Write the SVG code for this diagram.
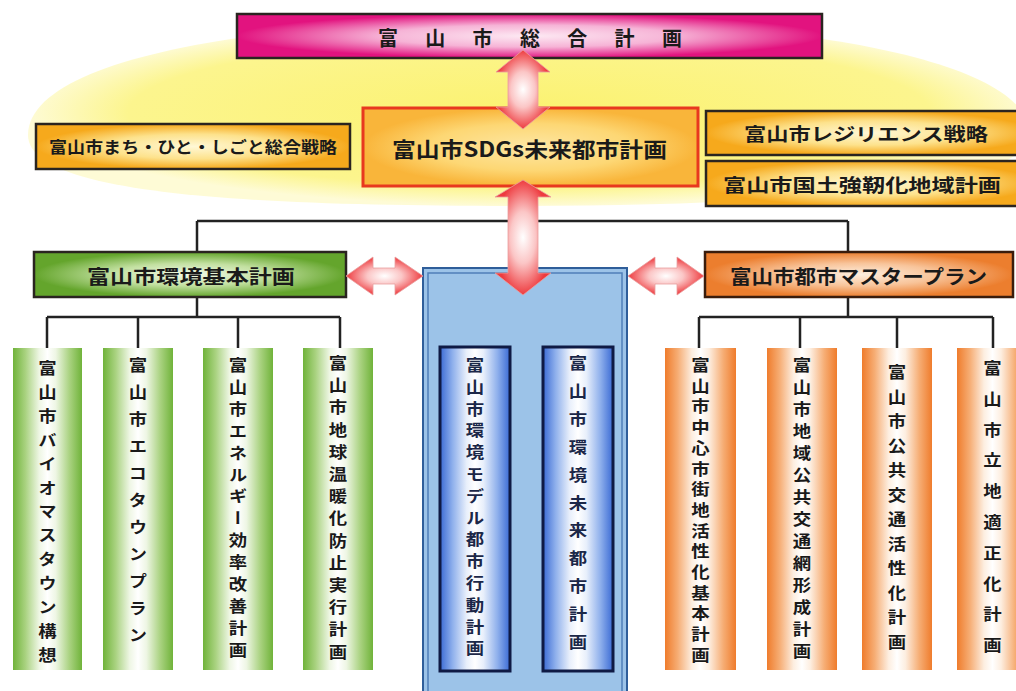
<svg xmlns="http://www.w3.org/2000/svg" width="1016" height="691" viewBox="0 0 1016 691">
<defs>
<radialGradient id="gYellow" cx="0.5" cy="0.5" r="0.5">
<stop offset="0" stop-color="#fbf270"/>
<stop offset="0.8" stop-color="#fcf58e"/>
<stop offset="1" stop-color="#fefbd6"/>
</radialGradient>
<radialGradient id="gPink" cx="0.5" cy="0.5" r="0.5">
<stop offset="0" stop-color="#fde9f3"/>
<stop offset="0.5" stop-color="#f6b3d6"/>
<stop offset="1" stop-color="#e2137f"/>
</radialGradient>
<radialGradient id="gGold" cx="0.5" cy="0.5" r="0.5">
<stop offset="0" stop-color="#fff8d6"/>
<stop offset="0.55" stop-color="#fde28c"/>
<stop offset="1" stop-color="#f6a91c"/>
</radialGradient>
<radialGradient id="gSdgs" cx="0.5" cy="0.5" r="0.5">
<stop offset="0" stop-color="#fde7a4"/>
<stop offset="0.6" stop-color="#fdd774"/>
<stop offset="1" stop-color="#f9b53a"/>
</radialGradient>
<radialGradient id="gGreenH" cx="0.5" cy="0.5" r="0.5">
<stop offset="0" stop-color="#f2f9e8"/>
<stop offset="0.5" stop-color="#c2e0a0"/>
<stop offset="1" stop-color="#64a52c"/>
</radialGradient>
<radialGradient id="gOrangeH" cx="0.5" cy="0.5" r="0.5">
<stop offset="0" stop-color="#fdeede"/>
<stop offset="0.5" stop-color="#f8c49a"/>
<stop offset="1" stop-color="#ec7e2e"/>
</radialGradient>
<linearGradient id="gGreenV" x1="0" y1="0" x2="1" y2="0">
<stop offset="0" stop-color="#70b33a"/>
<stop offset="0.18" stop-color="#a9d280"/>
<stop offset="0.38" stop-color="#eef6e4"/>
<stop offset="0.5" stop-color="#ffffff"/>
<stop offset="0.62" stop-color="#eef6e4"/>
<stop offset="0.82" stop-color="#a9d280"/>
<stop offset="1" stop-color="#70b33a"/>
</linearGradient>
<linearGradient id="gOrangeV" x1="0" y1="0" x2="1" y2="0">
<stop offset="0" stop-color="#ef7c2c"/>
<stop offset="0.18" stop-color="#f6ad74"/>
<stop offset="0.38" stop-color="#fdeee0"/>
<stop offset="0.5" stop-color="#ffffff"/>
<stop offset="0.62" stop-color="#fdeee0"/>
<stop offset="0.82" stop-color="#f6ad74"/>
<stop offset="1" stop-color="#ef7c2c"/>
</linearGradient>
<linearGradient id="gBlueV" x1="0" y1="0" x2="1" y2="0">
<stop offset="0" stop-color="#3a6ad4"/>
<stop offset="0.18" stop-color="#8fb0ec"/>
<stop offset="0.38" stop-color="#e8effb"/>
<stop offset="0.5" stop-color="#ffffff"/>
<stop offset="0.62" stop-color="#e8effb"/>
<stop offset="0.82" stop-color="#8fb0ec"/>
<stop offset="1" stop-color="#3a6ad4"/>
</linearGradient>
<radialGradient id="gArrow" cx="0.5" cy="0.5" r="0.5">
<stop offset="0" stop-color="#ffffff"/>
<stop offset="0.45" stop-color="#fbc6c6"/>
<stop offset="1" stop-color="#ee3b3f"/>
</radialGradient>
<style>
.t{font-family:"Noto Sans CJK JP","Noto Sans CJK SC",sans-serif;font-weight:700;fill:#1a1a1a;dominant-baseline:central}
.v{font-family:"Noto Sans CJK JP","Noto Sans CJK SC",sans-serif;font-weight:700;fill:#1a1a1a;font-size:16px;writing-mode:vertical-rl}
.vb{fill:#1b2748}
.line{stroke:#222;stroke-width:2.5;fill:none}
.arrow{fill:url(#gArrow);stroke:#e8a0a0;stroke-width:0.8}
.boxK{stroke:#2a2420;stroke-width:2.5}
</style>
</defs>

<path d="M 28 135 C 28 60, 250 20, 525 20 C 800 20, 1030 60, 1030 135 C 1030 185, 800 206, 525 206 C 250 206, 28 195, 28 135 Z" fill="url(#gYellow)"/>

<g id="connectors">
<path class="line" d="M197 221 H848 M197 221 V252 M848 221 V252"/>
<path class="line" d="M197 297 V317 M47 317 H340 M47 317 V348 M138 317 V348 M238 317 V348 M340 317 V348"/>
<path class="line" d="M848 297 V317 M699 317 H993 M699 317 V348 M800 317 V348 M897 317 V348 M993 317 V348"/>
</g>

<g id="node-sogo">
<rect class="boxK" x="237" y="14" width="585" height="44" fill="url(#gPink)"/>
<text class="t" font-size="20" y="37" x="378 401.6 425.3 449 472.6 496.3 520 543.6 567.3 591 614.6 638.3 662">富 山 市 総 合 計 画</text>
</g>

<g id="node-machi">
<rect class="boxK" x="36" y="124" width="314" height="45" fill="url(#gGold)"/>
<text class="t" font-size="16" x="49" y="146" textLength="288" lengthAdjust="spacingAndGlyphs">富山市まち・ひと・しごと総合戦略</text>
</g>

<g id="node-sdgs">
<rect x="363" y="108" width="335" height="78" fill="url(#gSdgs)" stroke="#e8381f" stroke-width="3"/>
<text class="t" font-size="21" x="392" y="148" textLength="275" lengthAdjust="spacingAndGlyphs">富山市SDGs未来都市計画</text>
</g>

<g id="node-resilience">
<rect class="boxK" x="706" y="111" width="330" height="44" fill="url(#gGold)"/>
<text class="t" font-size="18" x="744" y="133" textLength="244" lengthAdjust="spacingAndGlyphs">富山市レジリエンス戦略</text>
</g>

<g id="node-kokudo">
<rect class="boxK" x="706" y="161" width="330" height="45" fill="url(#gGold)"/>
<text class="t" font-size="18" x="723" y="184" textLength="278" lengthAdjust="spacingAndGlyphs">富山市国土強靭化地域計画</text>
</g>

<g id="node-kankyo">
<rect class="boxK" x="34" y="252" width="312" height="45" fill="url(#gGreenH)"/>
<text class="t" font-size="19" x="87" y="275" textLength="208" lengthAdjust="spacingAndGlyphs">富山市環境基本計画</text>
</g>

<g id="node-toshi">
<rect x="705" y="252" width="308" height="45" fill="url(#gOrangeH)" stroke="#3a1c0c" stroke-width="2.5"/>
<text class="t" font-size="19" x="730" y="275" textLength="257" lengthAdjust="spacingAndGlyphs">富山市都市マスタープラン</text>
</g>

<g id="node-center">
<rect x="423" y="268" width="204" height="440" fill="#9cc3e8" stroke="#2f5e9a" stroke-width="2"/>
<rect x="428" y="273" width="194" height="440" fill="none" stroke="#4f7fb8" stroke-width="1.5"/>
</g>

<g id="node-model">
<rect x="440" y="347" width="70" height="324" fill="url(#gBlueV)" stroke="#0f1a44" stroke-width="3"/>
<text class="v vb" transform="translate(475 0) scale(1.15 1)" x="0" y="357" letter-spacing="5.8">富山市環境モデル都市行動計画</text>
</g>

<g id="node-mirai">
<rect x="543" y="347" width="70" height="324" fill="url(#gBlueV)" stroke="#0f1a44" stroke-width="3"/>
<text class="v vb" transform="translate(578 0) scale(1.15 1)" x="0" y="355" letter-spacing="11.9">富山市環境未来都市計画</text>
</g>

<g id="connectors-arrows">
<path class="arrow" d="M523 50 L550 72 L538 72 L538 107 L550 107 L523 129 L496 107 L508 107 L508 72 L496 72 Z"/>
<path class="arrow" d="M523 180 L551 197 L538 197 L538 273 L551 273 L523 295 L495 273 L508 273 L508 197 L495 197 Z"/>
<path class="arrow" d="M346 276 L373 257 L373 268 L395 268 L395 257 L423 276 L395 295 L395 284 L373 284 L373 295 Z"/>
<path class="arrow" d="M628 276 L655 257 L655 268 L677 268 L677 257 L704 276 L677 295 L677 284 L655 284 L655 295 Z"/>
</g>

<g id="node-biomass">
<rect x="13" y="348" width="69" height="322" fill="url(#gGreenV)"/>
<text class="v" transform="translate(47.5 0) scale(1.15 1)" x="0" y="360" letter-spacing="7.9">富山市バイオマスタウン構想</text>
</g>
<g id="node-ecotown">
<rect x="103" y="348" width="70" height="322" fill="url(#gGreenV)"/>
<text class="v" transform="translate(138 0) scale(1.15 1)" x="0" y="357" letter-spacing="11">富山市エコタウンプラン</text>
</g>
<g id="node-energy">
<rect x="203" y="348" width="70" height="322" fill="url(#gGreenV)"/>
<text class="v" transform="translate(238 0) scale(1.15 1)" x="0" y="357" letter-spacing="5.9">富山市エネルギー効率改善計画</text>
</g>
<g id="node-ondanka">
<rect x="303" y="348" width="70" height="322" fill="url(#gGreenV)"/>
<text class="v" transform="translate(338 0) scale(1.15 1)" x="0" y="355" letter-spacing="6.2">富山市地球温暖化防止実行計画</text>
</g>

<g id="node-chushin">
<rect x="665" y="348" width="71" height="322" fill="url(#gOrangeV)"/>
<text class="v" transform="translate(700.5 0) scale(1.15 1)" x="0" y="357" letter-spacing="4.7">富山市中心市街地活性化基本計画</text>
</g>
<g id="node-chiiki">
<rect x="767" y="348" width="70" height="322" fill="url(#gOrangeV)"/>
<text class="v" transform="translate(802 0) scale(1.15 1)" x="0" y="357" letter-spacing="6">富山市地域公共交通網形成計画</text>
</g>
<g id="node-kokyo">
<rect x="862" y="348" width="70" height="322" fill="url(#gOrangeV)"/>
<text class="v" transform="translate(897 0) scale(1.15 1)" x="0" y="364" letter-spacing="8.5">富山市公共交通活性化計画</text>
</g>
<g id="node-ritchi">
<rect x="957" y="348" width="71" height="322" fill="url(#gOrangeV)"/>
<text class="v" transform="translate(992.5 0) scale(1.15 1)" x="0" y="360" letter-spacing="14.8">富山市立地適正化計画</text>
</g>
</svg>
